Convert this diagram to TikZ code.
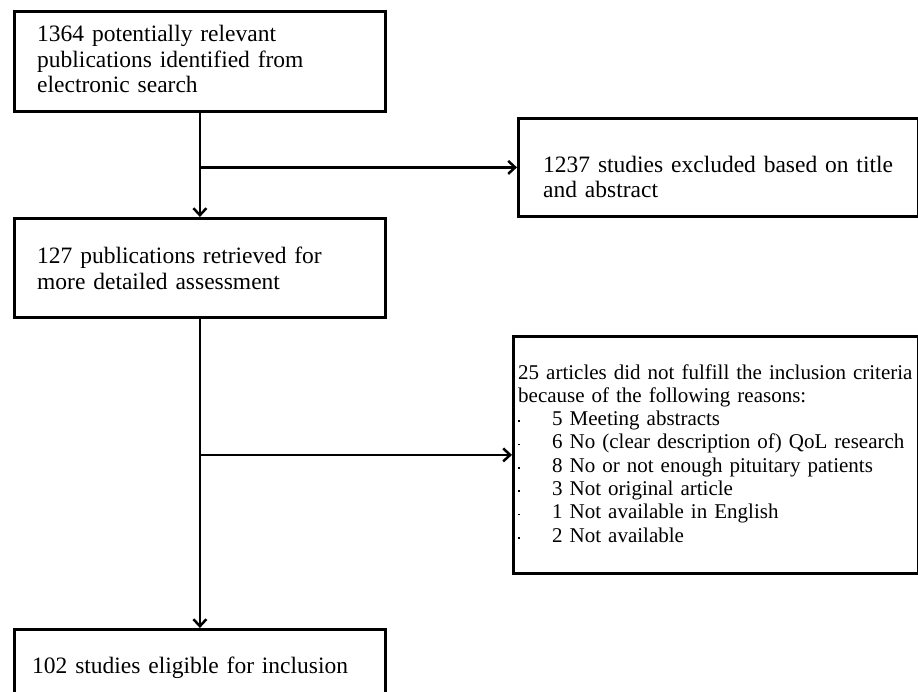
\documentclass[tikz,border=0pt]{standalone}
\usepackage{fontspec}
\setmainfont{Liberation Serif}
\usetikzlibrary{arrows.meta}
\tikzset{
  box/.style={draw=black, line width=2.8pt, fill=none, inner sep=0pt, anchor=north west},
  txtbig/.style={inner sep=0pt, anchor=base west, align=left, text width=360pt, font=\fontsize{23.5}{25.5}\selectfont},
  txtsmall/.style={inner sep=0pt, anchor=base west, align=left, text width=400pt, font=\fontsize{21}{23.3}\selectfont},
  arr/.style={draw=black, line width=2.5pt, -{Straight Barb[length=7pt,width=13pt,line width=2.5pt]}}
}
\newcommand{\bul}{\makebox[34pt][l]{\raisebox{3.5pt}{\rule{1.8pt}{1.8pt}}}}
\begin{document}
\begin{tikzpicture}[x=1pt,y=-1pt]
\clip (0,0) rectangle (918,692);
\fill[white] (0,0) rectangle (918,692);
% boxes
\node[box, minimum width=371pt, minimum height=100pt] (b1) at (13,10) {};
\node[box, minimum width=399.5pt, minimum height=98pt] (b2) at (517,117) {};
\node[box, minimum width=371pt, minimum height=99pt] (b3) at (13,217) {};
\node[box, minimum width=404.5pt, minimum height=237pt] (b4) at (512,335) {};
\node[box, minimum width=371pt, minimum height=112pt] (b5) at (13,628) {};
% texts
\node[txtbig] (t1) at (37,42) {1364 potentially relevant\\publications identified from\\electronic search};
\node[txtbig, font=\fontsize{23.5}{25}\selectfont] (t2) at (543,173) {1237 studies excluded based on title\\and abstract};
\node[txtbig, font=\fontsize{23.5}{26}\selectfont] (t3) at (37,264) {127 publications retrieved for\\more detailed assessment};
\node[txtsmall] (t4) at (518,379) {25 articles did not fulfill the inclusion criteria\\because of the following reasons:\\
\bul 5 Meeting abstracts\\
\bul 6 No (clear description of) QoL research\\
\bul 8 No or not enough pituitary patients\\
\bul 3 Not original article\\
\bul 1 Not available in English\\
\bul 2 Not available};
\node[txtbig] (t5) at (32,673) {102 studies eligible for inclusion};
% connectors
\coordinate (j1) at (b1.south |- b2.west);
\coordinate (j2) at (b3.south |- b4.west);
\draw[arr] (b1.south) -- (b3.north);
\draw[arr] (j1) -- (b2.west);
\draw[arr] (b3.south) -- (b5.north);
\draw[arr] (j2) -- (b4.west);
\end{tikzpicture}
\end{document}
